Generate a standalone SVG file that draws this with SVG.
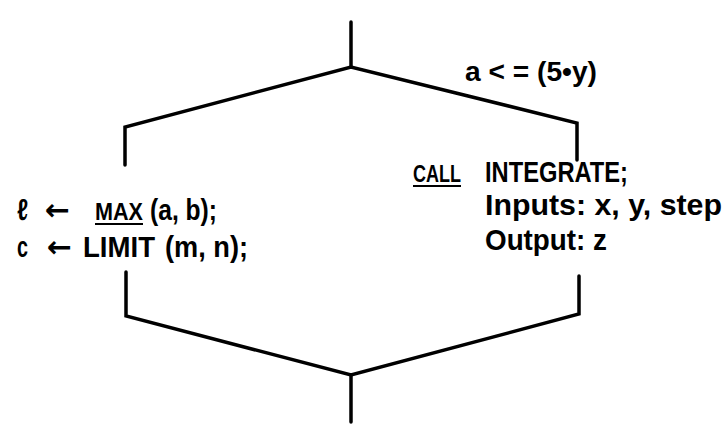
<svg xmlns="http://www.w3.org/2000/svg" width="726" height="434" viewBox="0 0 726 434">
<style>
.t{font-family:"Liberation Sans",Arial,sans-serif;font-weight:bold;font-size:30px;fill:#000}
.s{font-size:24px}
.c{font-size:28px}
.ar{font-family:"DejaVu Sans",sans-serif;font-size:30px}
.ln{fill:none;stroke:#000;stroke-width:3.5;stroke-linejoin:miter;stroke-linecap:round}
.ul{stroke:#000;stroke-width:2.2}
</style>
<rect width="726" height="434" fill="#fff"/>
<g id="connectors">
<path class="ln" d="M351,22 V67"/>
<path class="ln" d="M125,165 V127 L351,67 L577,123 V160"/>
<path class="ln" d="M126,272 V316 L351,375 L579,314 V276"/>
<path class="ln" d="M351,375 V422"/>
</g>
<g id="condition">
<text class="t c" x="465" y="81" textLength="132" lengthAdjust="spacingAndGlyphs">a &lt; = (5•y)</text>
</g>
<g id="left-branch">
<text class="t" y="220"><tspan x="17" textLength="11" lengthAdjust="spacingAndGlyphs">ℓ</tspan><tspan class="ar" x="45" textLength="25" lengthAdjust="spacingAndGlyphs">←</tspan><tspan class="s" x="95" textLength="48" lengthAdjust="spacingAndGlyphs">MAX</tspan><tspan x="150" textLength="67" lengthAdjust="spacingAndGlyphs">(a, b);</tspan></text>
<line class="ul" x1="95" y1="224" x2="143" y2="224"/>
<text class="t" y="257"><tspan x="17" textLength="11" lengthAdjust="spacingAndGlyphs">c</tspan><tspan class="ar" x="47" textLength="25" lengthAdjust="spacingAndGlyphs">←</tspan><tspan x="83" textLength="72" lengthAdjust="spacingAndGlyphs">LIMIT</tspan><tspan x="165" textLength="83" lengthAdjust="spacingAndGlyphs">(m, n);</tspan></text>
</g>
<g id="right-branch">
<text class="t s" transform="translate(413,182) scale(0.75,1)">CALL</text>
<line class="ul" x1="413" y1="186" x2="461" y2="186"/>
<text class="t" x="485" y="182" textLength="143" lengthAdjust="spacingAndGlyphs">INTEGRATE;</text>
<text class="t" x="485" y="215" textLength="237" lengthAdjust="spacingAndGlyphs">Inputs:  x,  y,  step</text>
<text class="t" x="485" y="250" textLength="122" lengthAdjust="spacingAndGlyphs">Output:  z</text>
</g>
</svg>
